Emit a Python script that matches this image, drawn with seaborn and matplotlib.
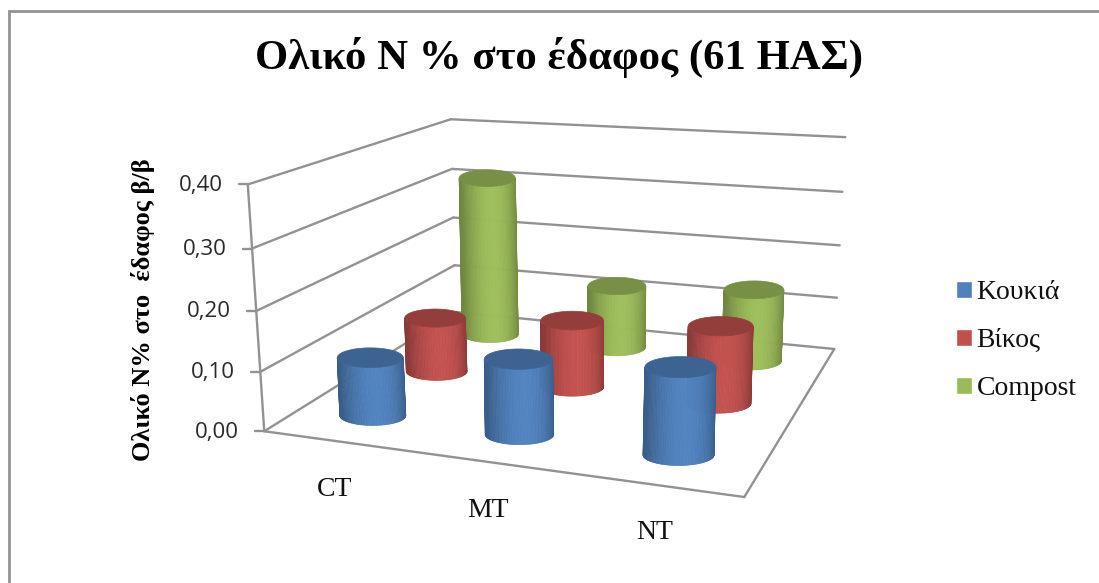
import numpy as np
import pandas as pd
import matplotlib
matplotlib.use("Agg")
import matplotlib.pyplot as plt
from matplotlib.collections import PolyCollection
from matplotlib.patches import Patch
import seaborn as sns

# Total soil nitrogen per tillage system and crop
tillage = ["CT", "MT", "NT"]
crops = ["Κουκιά", "Βίκος", "Compost"]
koukia = [0.10, 0.125, 0.14]
vikos = [0.10, 0.12, 0.135]
compost = [0.31, 0.12, 0.135]
z_ticks = [0.0, 0.1, 0.2, 0.3, 0.4]
z_labels = ["0,00", "0,10", "0,20", "0,30", "0,40"]

sns.set_style("white")
palette = sns.color_palette(["#4f81bd", "#c0504d", "#9bbb59"])
GRID = "#929292"
SERIF = "Liberation Serif"

df = pd.DataFrame({"tillage": tillage, crops[0]: koukia, crops[1]: vikos, crops[2]: compost})
long_df = df.melt("tillage", var_name="crop", value_name="n")

# Camera matrix of the box (category, series depth, value) -> canvas
box_world = np.array([
    [0, 0, 0], [0, 0, .1], [0, 0, .2], [0, 0, .3], [0, 0, .4],
    [0, 3, 0], [0, 3, .1], [0, 3, .2], [0, 3, .3], [0, 3, .4],
    [3, 3, 0], [3, 3, .1], [3, 3, .2], [3, 3, .3], [3, 3, .4],
    [3, 0, 0],
])
box_canvas = np.array([
    [262, 432], [260, 372], [257, 311], [253, 248], [249, 184],
    [459, 312], [455, 265], [452, 217], [450, 169], [450, 120],
    [833, 349], [837, 298], [840, 245], [843, 191], [846, 138],
    [744, 497],
]) / 1000.0


def solve_camera(world, canvas):
    rows = []
    for (x, y, z), (u, v) in zip(world, canvas):
        rows.append([x, y, z, 1, 0, 0, 0, 0, -u * x, -u * y, -u * z, -u])
        rows.append([0, 0, 0, 0, x, y, z, 1, -v * x, -v * y, -v * z, -v])
    return np.linalg.svd(np.array(rows))[2][-1].reshape(3, 4)


CAMERA = solve_camera(box_world, box_canvas)


def project(x, y, z):
    h = CAMERA @ np.array([x, y, z, 1.0])
    return h[:2] / h[2] * 1000.0


def shade(color, f):
    return tuple(np.clip(np.array(color) * f, 0, 1))


def draw_cylinder(ax, x, y, value, color):
    base = project(x, y, 0)
    top = project(x, y, value)
    unit = np.linalg.norm(project(x, y, 0.1) - base)
    rx, ry = 0.57 * unit, 0.17 * unit
    phi = np.linspace(0, np.pi, 61)
    quads, colors = [], []
    for a, b in zip(phi[:-1], phi[1:]):
        offs = np.array([[rx * np.cos(a), ry * np.sin(a)], [rx * np.cos(b), ry * np.sin(b)]])
        quads.append([top + offs[0], top + offs[1], base + offs[1], base + offs[0]])
        m = np.cos((a + b) / 2 + 0.15)
        colors.append(shade(color, 1.02 - 0.30 * m ** 2))
    side = PolyCollection(quads, facecolors=colors, edgecolors=colors, linewidths=0.5, zorder=3)
    side.set_snap(False)
    ax.add_collection(side)
    t = np.linspace(0, 2 * np.pi, 80)
    cap = ax.fill(top[0] + rx * np.cos(t), top[1] + ry * np.sin(t), color=shade(color, 0.77), lw=0.5, zorder=3)
    cap[0].set_snap(False)


fig = plt.figure(figsize=(10.99, 5.83), dpi=100)
ax = fig.add_axes([0, 0, 1, 1])
ax.set_xlim(0, 1099)
ax.set_ylim(583, 0)
ax.axis("off")

# Chart area outline, open towards the right and bottom
ax.plot([8.5, 8.5, 1099], [583, 11, 11], color=GRID, lw=2.0, solid_joinstyle="miter", zorder=1)


def edge(p, q):
    ax.plot([p[0], q[0]], [p[1], q[1]], color=GRID, lw=1.7, solid_capstyle="round", zorder=2)


# Walls, floor and value axis
for z, label in zip(z_ticks, z_labels):
    front, back, right = project(0, 0, z), project(0, 3, z), project(3, 3, z)
    edge(front, back)
    edge(back, right)
    edge(front, front + np.array([-9, 0]))
    ax.text(front[0] - 25, front[1] + 1, label, ha="right", va="center", family="Open Sans", fontsize=16,
            color="#2a2a2a")
edge(project(0, 0, 0), project(0, 0, 0.4))
edge(project(0, 0, 0), project(3, 0, 0))
edge(project(3, 0, 0), project(3, 3, 0))

# Cylinders, back row first
for j in reversed(range(len(crops))):
    sub = long_df[long_df["crop"] == crops[j]]
    for i, (_, row) in enumerate(sub.iterrows()):
        draw_cylinder(ax, i + 0.5, j + 0.5, row["n"], palette[j])

# Category labels below the front edge
for i, name in enumerate(tillage):
    p = project(i + 0.5, 0, 0)
    ax.text(p[0] - 1, p[1] + 48, name, ha="center", va="center", family=SERIF, fontsize=20, color="#111111")

ax.text(559, 57, "Ολικό Ν % στο έδαφος (61 ΗΑΣ)", ha="center", va="center", family=SERIF,
        fontweight="bold", fontsize=30.8, color="black")
ax.text(143, 310, "Ολικό Ν% στο  έδαφος β/β", rotation=90, ha="center", va="center", family=SERIF,
        fontweight="bold", fontsize=19, color="black")

ax.legend(handles=[Patch(facecolor=c, label=n) for c, n in zip(palette, crops)],
          loc="upper left", bbox_to_anchor=(948 / 1099, 1 - 272 / 583), frameon=False,
          prop={"family": SERIF, "size": 20}, labelspacing=0.83, handlelength=0.56,
          handleheight=0.56, handletextpad=0.17, labelcolor="#111111", borderpad=0.3, borderaxespad=0)

fig.savefig("out.png", dpi=100, facecolor="white")
